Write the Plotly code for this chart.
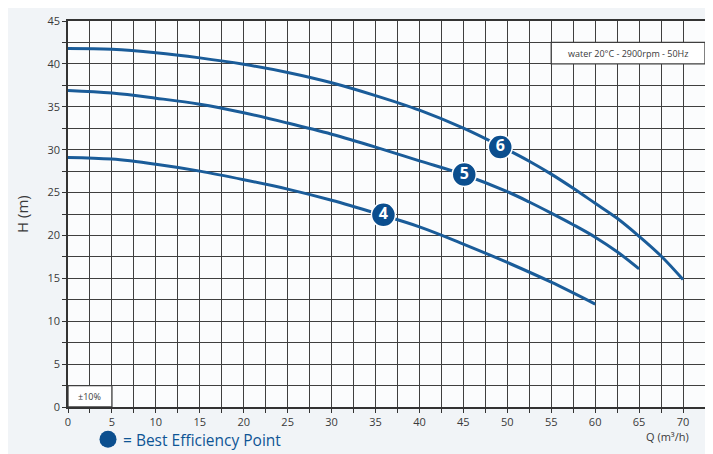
import plotly.graph_objects as go

# Q (m3/h) and H (m)
q4 = [0, 5, 10, 15, 20, 25, 30, 35, 40, 45, 50, 55, 60]
h4 = [29.1, 28.9, 28.3, 27.5, 26.5, 25.4, 24.1, 22.6, 21.0, 19.0, 16.85, 14.55, 12.0]
q5 = [0, 5, 10, 15, 20, 25, 30, 35, 40, 45, 50, 52.5, 55, 57.5, 60, 62.5, 65]
h5 = [36.9, 36.6, 36.0, 35.3, 34.3, 33.1, 31.8, 30.3, 28.7, 27.1, 25.1, 23.9, 22.6, 21.25, 19.8, 18.1, 16.1]
q6 = [0, 5, 10, 15, 20, 25, 30, 35, 40, 45, 50, 52.5, 55, 57.5, 60, 62.5, 65, 67.5, 70]
h6 = [41.8, 41.7, 41.3, 40.7, 39.95, 39.0, 37.8, 36.3, 34.6, 32.5, 30.0, 28.65, 27.15, 25.5, 23.75, 22.0, 19.9, 17.6, 14.85]

curve_labels = ["4", "5", "6"]
bep_q = [35.9, 45.1, 49.2]
bep_h = [22.4, 27.1, 30.3]

x_ticks = [0, 5, 10, 15, 20, 25, 30, 35, 40, 45, 50, 55, 60, 65, 70]
y_ticks = [0, 5, 10, 15, 20, 25, 30, 35, 40, 45]

LINE = "#1a5c99"
BEP = "#0b4e8e"
GRID = "#3f3f3f"
TXT = "#3a3a3a"

fig = go.Figure()
for q, h in [(q4, h4), (q5, h5), (q6, h6)]:
    fig.add_trace(go.Scatter(x=q, y=h, mode="lines", line=dict(color=LINE, width=3, shape="spline", smoothing=1.0),
                             hoverinfo="skip", showlegend=False))

fig.add_trace(go.Scatter(x=bep_q, y=bep_h, mode="markers+text", text=curve_labels,
                         textposition="middle center",
                         textfont=dict(color="white", size=16, family="Open Sans", weight="bold"),
                         marker=dict(size=24, color=BEP, line=dict(color="white", width=1.5)),
                         showlegend=False, hoverinfo="skip"))

axis_common = dict(showline=True, linecolor="#333333", linewidth=1.5, mirror=True,
                   showgrid=True, gridcolor=GRID, gridwidth=1.3,
                   ticks="outside", ticklen=4, tickcolor="#333333", tickwidth=1.2,
                   ticklabeloverflow="allow",
                   tickfont=dict(size=11, color=TXT, family="Open Sans"), zeroline=False)

fig.update_xaxes(range=[0, 72.5], tickvals=x_ticks,
                 minor=dict(dtick=2.5, tick0=0, showgrid=True, gridcolor=GRID, gridwidth=1.3,
                            ticks="outside", ticklen=4, tickcolor="#333333"),
                 **axis_common)
fig.update_yaxes(range=[0, 45], tickvals=y_ticks,
                 minor=dict(dtick=2.5, tick0=0, showgrid=True, gridcolor=GRID, gridwidth=1.3,
                            ticks="outside", ticklen=4, tickcolor="#333333"),
                 **axis_common)

# info boxes
fig.add_shape(type="rect", x0=55, x1=72.5, y0=40, y1=42.5, fillcolor="white",
              line=dict(color=GRID, width=1.3), layer="above")
fig.add_annotation(x=63.75, y=41.25, text="water 20°C - 2900rpm - 50Hz", showarrow=False,
                   font=dict(size=9, color=TXT, family="Open Sans"))
fig.add_shape(type="rect", x0=0, x1=5, y0=0, y1=2.5, fillcolor="white",
              line=dict(color=GRID, width=1.3), layer="above")
fig.add_annotation(x=2.5, y=1.25, text="±10%", showarrow=False,
                   font=dict(size=9, color=TXT, family="Open Sans"))

# axis titles
fig.add_annotation(xref="paper", yref="paper", x=(22 - 68) / 637, y=0.5, xanchor="center", yanchor="middle",
                   text="H (m)", textangle=-90,
                   showarrow=False, font=dict(size=15, color=TXT, family="Open Sans"))
fig.add_annotation(xref="paper", yref="paper", x=(691 - 68) / 637, y=-(437 - 407) / 394,
                   xanchor="right", yanchor="middle",
                   text="Q (m³/h)", showarrow=False, font=dict(size=11, color=TXT, family="Open Sans"))

# legend for best efficiency point
fig.add_shape(type="circle", xref="paper", yref="paper", xsizemode="pixel", ysizemode="pixel",
              xanchor=(108 - 68) / 637, yanchor=-(440 - 407) / 394,
              x0=-8.5, x1=8.5, y0=-8.5, y1=8.5, fillcolor=BEP, line=dict(width=0))
fig.add_annotation(xref="paper", yref="paper", x=(121 - 68) / 637, y=-(441 - 407) / 394,
                   xanchor="left", yanchor="middle", text="= Best Efficiency Point", showarrow=False,
                   font=dict(size=15.5, color="#0e5595", family="Open Sans"))

# page body has an 8px margin, so the figure is sized to fit inside the window
fig.update_layout(width=705, height=446, margin=dict(l=60, r=8, t=5, b=47),
                  paper_bgcolor="#f1f4f7", plot_bgcolor="#fbfcfd", showlegend=False)

fig.write_html("out.html")
